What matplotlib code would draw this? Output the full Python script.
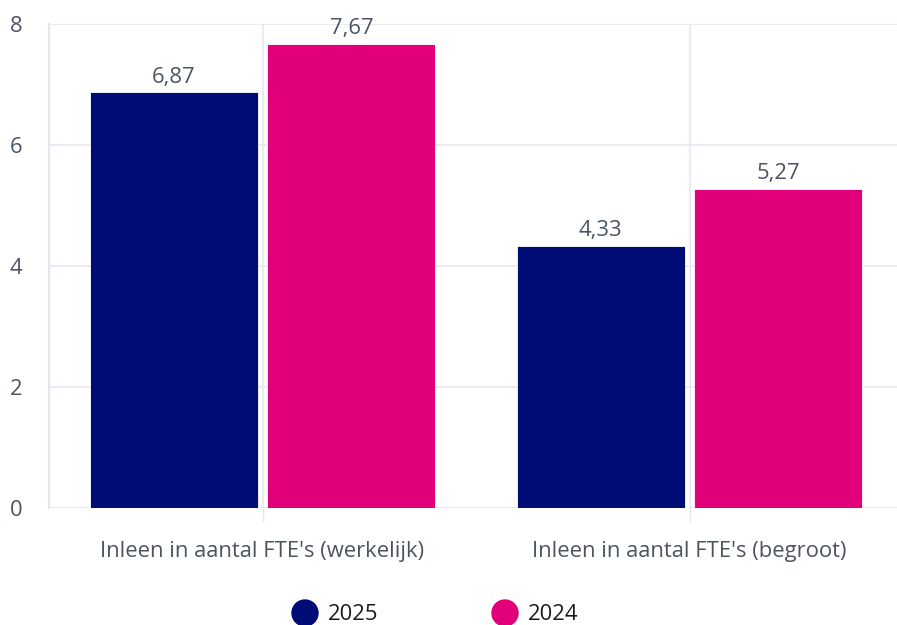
import numpy as np
import matplotlib as mpl
mpl.use('Agg')
import matplotlib.pyplot as plt

categories = ["Inleen in aantal FTE's (werkelijk)", "Inleen in aantal FTE's (begroot)"]
series_names = ["2025", "2024"]
values_2025 = [6.87, 4.33]
values_2024 = [7.67, 5.27]
colors = ["#000c75", "#e2007a"]
y_ticks = [0, 2, 4, 6, 8]

plt.rcParams['font.family'] = ['Open Sans', 'DejaVu Sans']
grid_col = "#e4e7f2"
text_col = "#4a5462"
fs = 15.8

W, H = 897, 625
fig = plt.figure(figsize=(W / 100, H / 100), dpi=100)
ax = fig.add_axes([49 / W, 1 - 508 / H, 1 - 49 / W, (508 - 24) / H])

x = np.arange(len(categories))
bw = 0.393
off = 0.208
for vals, name, col, sgn in [(values_2025, series_names[0], colors[0], -1),
                             (values_2024, series_names[1], colors[1], 1)]:
    bars = ax.bar(x + sgn * off, vals, width=bw, color=col, edgecolor="#ffffff",
                  linewidth=0.6, zorder=3, label=name)
    for b, v in zip(bars, vals):
        ax.text(b.get_x() + b.get_width() / 2, v + 0.08, f"{v:.2f}".replace(".", ","),
                ha="center", va="bottom", fontsize=fs, color=text_col, zorder=4)

ax.set_xlim(-0.5, -0.5 + (W - 49) / 427)
ax.set_ylim(0, 8)
ax.set_yticks(y_ticks)
ax.set_yticklabels([str(t) for t in y_ticks], fontsize=fs, color=text_col)
ax.set_xticks(x)
ax.set_xticklabels(categories, fontsize=fs, color=text_col)
ax.tick_params(axis="y", length=0, pad=19)
ax.tick_params(axis="x", length=10, width=1, color=grid_col, pad=14)

for s in ["top", "right", "bottom"]:
    ax.spines[s].set_visible(False)
ax.spines["left"].set_color(grid_col)
ax.spines["left"].set_linewidth(1.5)
ax.grid(True, color=grid_col, linewidth=1.2, zorder=0)
ax.axhline(0, color=grid_col, linewidth=2, zorder=2)
ax.set_axisbelow(True)

# legend
for xp, name, col in [(305, series_names[0], colors[0]), (505, series_names[1], colors[1])]:
    fig.patches.append(mpl.patches.Ellipse((xp / W, 1 - 613 / H), 26 / W, 26 / H,
                                           transform=fig.transFigure, color=col,
                                           figure=fig))
    fig.text((xp + 23) / W, 1 - 614 / H, name, fontsize=fs, color="#1a1a1a",
             va="center", ha="left")

fig.savefig("out.png", dpi=100)
